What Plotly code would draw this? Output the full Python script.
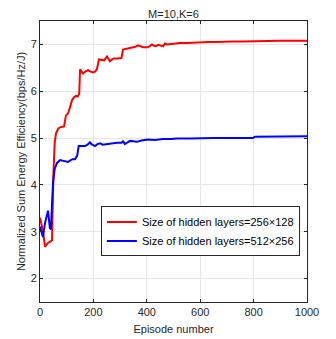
import plotly.graph_objects as go

title_text = "M=10,K=6"
x_label = "Episode number"
y_label = "Normalized Sum Energy Efficiency(bps/Hz/J)"

red_name = "Size of hidden layers=256×128"
red_x = [0, 10, 19, 30, 41, 45, 50, 55, 60, 68, 75, 85, 90, 97, 105, 112, 120, 127, 135, 142, 147,
         150, 155, 161, 170, 180, 190, 198, 206, 213, 221, 230, 240, 251, 262, 270, 277, 288, 296,
         305, 311, 320, 330, 340, 348, 357, 367, 376, 386, 395, 404, 412, 419, 427, 434, 442, 450,
         461, 468, 476, 490, 505, 524, 550, 575, 599, 630, 660, 690, 723, 760, 800, 850, 900, 950, 1000]
red_y = [3.30, 3.05, 2.68, 2.76, 2.80, 2.82, 4.20, 4.90, 5.10, 5.20, 5.23, 5.25, 5.25, 5.48, 5.53,
         5.65, 5.81, 5.87, 5.90, 5.89, 5.95, 6.47, 6.42, 6.38, 6.42, 6.45, 6.42, 6.40, 6.42, 6.47,
         6.68, 6.67, 6.66, 6.74, 6.64, 6.68, 6.70, 6.70, 6.70, 6.71, 6.89, 6.90, 6.91, 6.93, 6.94,
         6.95, 6.98, 6.96, 6.94, 6.94, 6.94, 6.97, 7.00, 6.97, 6.96, 6.99, 6.98, 6.96, 7.02, 7.00,
         7.01, 7.02, 7.03, 7.03, 7.04, 7.04, 7.05, 7.05, 7.06, 7.06, 7.06, 7.07, 7.08, 7.08, 7.08, 7.08]

blue_name = "Size of hidden layers=512×256"
blue_x = [0, 11, 19, 30, 37, 41, 45, 49, 55, 64, 75, 85, 94, 105, 115, 122, 131, 139, 145, 150, 160,
          169, 178, 187, 193, 198, 206, 215, 225, 234, 243, 252, 262, 275, 290, 305, 311, 318, 328,
          337, 350, 363, 380, 404, 430, 461, 490, 513, 560, 600, 650, 700, 750, 798, 805, 850, 900,
          950, 1000]
blue_y = [3.11, 2.89, 3.19, 3.45, 3.08, 3.05, 3.60, 4.05, 4.35, 4.47, 4.53, 4.52, 4.51, 4.49, 4.53,
          4.55, 4.55, 4.62, 4.83, 4.83, 4.82, 4.83, 4.86, 4.91, 4.87, 4.85, 4.83, 4.87, 4.89, 4.86,
          4.87, 4.88, 4.89, 4.89, 4.90, 4.90, 4.93, 4.87, 4.91, 4.94, 4.93, 4.92, 4.95, 4.97, 4.96,
          4.98, 4.98, 4.99, 4.99, 5.00, 5.00, 5.00, 5.00, 5.00, 5.03, 5.03, 5.04, 5.04, 5.04]

x_ticks = [0, 200, 400, 600, 800, 1000]
y_ticks = [2, 3, 4, 5, 6, 7]

fig = go.Figure()
fig.add_trace(go.Scatter(x=red_x, y=red_y, mode="lines", name=red_name,
                         line=dict(color="#ff0000", width=2)))
fig.add_trace(go.Scatter(x=blue_x, y=blue_y, mode="lines", name=blue_name,
                         line=dict(color="#0000ff", width=2)))

axis_common = dict(
    showline=True, linecolor="#262626", linewidth=1, mirror="ticks",
    ticks="inside", ticklen=3, tickcolor="#262626",
    showgrid=True, gridcolor="#e6e6e6", gridwidth=1, zeroline=False,
    tickfont=dict(size=11, color="#262626"), automargin=False,
)

# page body has an 8px default margin, so the figure is sized to fit the window
fig.update_layout(
    width=328, height=331,
    margin=dict(l=32, r=29, t=13, b=37),
    paper_bgcolor="white", plot_bgcolor="white",
    font=dict(family="Liberation Sans, Arial, sans-serif", color="#262626"),
    title=dict(text=title_text, x=0.5, xanchor="center", xref="paper",
               y=1, yref="paper", yanchor="bottom", pad=dict(b=3),
               font=dict(size=11, color="#262626")),
    xaxis=dict(range=[0, 1000], tickvals=x_ticks,
               title=dict(text=x_label, font=dict(size=11), standoff=8), **axis_common),
    yaxis=dict(range=[1.5, 7.5], tickvals=y_ticks,
               title=dict(text=y_label, font=dict(size=11), standoff=2), **axis_common),
    legend=dict(x=0.228, y=0.251, xanchor="left", yanchor="middle",
                bgcolor="white", bordercolor="#262626", borderwidth=1,
                font=dict(size=11, color="#000000"),
                tracegroupgap=0, itemwidth=30),
    showlegend=True,
)

fig.write_html("out.html")
